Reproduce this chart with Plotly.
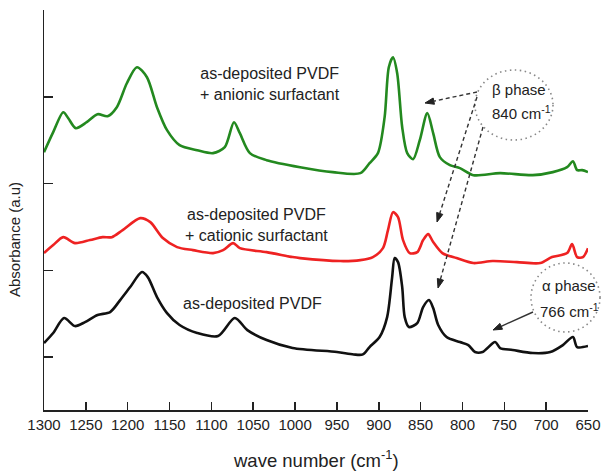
import plotly.graph_objects as go

# ---- data ----
gn_wn = [1300, 1289, 1277, 1271, 1262, 1249, 1236, 1224, 1213, 1201, 1189, 1177, 1165, 1153, 1138,
         1117, 1098, 1084, 1073, 1066, 1054, 1034, 994, 955, 922, 911, 901, 893, 888, 883,
         878, 872, 866, 859, 851, 842, 835, 827, 815, 803, 787, 755, 716, 692, 675,
         668, 663, 657, 650]
gn_ab = [3.363, 3.594, 3.824, 3.755, 3.640, 3.709, 3.801, 3.778, 3.882, 4.158, 4.343, 4.228, 3.882, 3.617, 3.444,
         3.386, 3.352, 3.421, 3.709, 3.582, 3.352, 3.271, 3.190, 3.133, 3.121, 3.236, 3.352, 3.767, 4.343, 4.458,
         4.274, 3.651, 3.352, 3.282, 3.501, 3.813, 3.582, 3.306, 3.213, 3.179, 3.098, 3.121, 3.098, 3.133, 3.190,
         3.259, 3.156, 3.156, 3.133]

rd_wn = [1300, 1289, 1277, 1263, 1245, 1230, 1219, 1206, 1185, 1173, 1158, 1141, 1122, 1098, 1086,
         1074, 1066, 1034, 1003, 994, 946, 922, 907, 895, 889, 883, 877, 871, 863, 854,
         847, 841, 835, 824, 807, 787, 764, 735, 707, 693, 675, 669, 663, 656, 650]
rd_ab = [2.199, 2.291, 2.383, 2.314, 2.349, 2.383, 2.383, 2.464, 2.602, 2.556, 2.372, 2.268, 2.233, 2.199, 2.233,
         2.314, 2.256, 2.210, 2.153, 2.141, 2.107, 2.118, 2.153, 2.256, 2.464, 2.671, 2.614, 2.349, 2.199, 2.210,
         2.349, 2.418, 2.326, 2.199, 2.141, 2.084, 2.107, 2.095, 2.084, 2.153, 2.199, 2.303, 2.153, 2.153, 2.256]

bk_wn = [1300, 1289, 1276, 1263, 1251, 1236, 1221, 1209, 1197, 1183, 1176, 1165, 1153, 1138, 1117,
         1092, 1072, 1057, 1034, 1003, 950, 930, 919, 911, 899, 890, 884, 881, 877, 872, 869,
         864, 854, 847, 840, 835, 829, 819, 803, 793, 785, 776, 761, 755, 740, 716,
         695, 680, 668, 663, 650]
bk_ab = [1.161, 1.277, 1.450, 1.357, 1.403, 1.484, 1.519, 1.657, 1.807, 1.980, 1.922, 1.692, 1.507, 1.369, 1.277,
         1.242, 1.450, 1.311, 1.196, 1.104, 1.058, 1.030, 1.030, 1.115, 1.231, 1.461, 1.922, 2.141, 2.095, 1.807, 1.461,
         1.346, 1.392, 1.576, 1.657, 1.565, 1.369, 1.231, 1.173, 1.138, 1.058, 1.058, 1.173, 1.104, 1.081, 1.046,
         1.058, 1.138, 1.231, 1.115, 1.127]

x_ticks = [1300, 1250, 1200, 1150, 1100, 1050, 1000, 950, 900, 850, 800, 750, 700, 650]
y_ticks = [1, 2, 3, 4, 5]

FONT = "Liberation Sans, Arial, sans-serif"

fig = go.Figure()
for wn, ab, col in [(gn_wn, gn_ab, "#23891f"), (rd_wn, rd_ab, "#ee2222"), (bk_wn, bk_ab, "#111111")]:
    fig.add_trace(go.Scatter(x=wn, y=ab, mode="lines",
                             line=dict(color=col, width=2.6, shape="spline", smoothing=0.8),
                             showlegend=False, hoverinfo="skip"))

W, H = 603, 472
L, R, T, B = 44, 15, 10, 62
PW, PH = W - L - R, H - T - B


def px(x):
    return (x - L) / PW


def py(y):
    return (H - B - y) / PH


annos = []
shapes = []


def text(x, y, s, size=16):
    annos.append(dict(x=px(x), y=py(y), xref="paper", yref="paper", text=s, showarrow=False,
                      xanchor="center", yanchor="middle", align="center",
                      font=dict(family=FONT, size=size, color="#222")))


text(270, 84, "as-deposited PVDF<br>+ anionic surfactant")
text(256, 225, "as-deposited PVDF<br>+ cationic surfactant")
text(252, 303, "as-deposited PVDF")
text(519, 90, "β phase", 15)
text(521, 112, "840 cm<sup>-1</sup>", 15)
text(569, 285, "α phase", 15)
text(569, 310, "766 cm<sup>-1</sup>", 15)

# dotted ellipses
shapes.append(dict(type="circle", xref="paper", yref="paper", x0=px(475), x1=px(553), y0=py(140), y1=py(70),
                   line=dict(color="#888", width=1.6, dash="1.5px,3.5px")))
shapes.append(dict(type="circle", xref="paper", yref="paper", x0=px(531), x1=px(600), y0=py(332), y1=py(263),
                   line=dict(color="#888", width=1.6, dash="1.5px,3.5px")))


def arrow(start, tip, dash):
    sx, sy = start
    tx, ty = tip
    dx, dy = tx - sx, ty - sy
    n = (dx * dx + dy * dy) ** 0.5
    ux, uy = dx / n, dy / n
    hl, hw = 9.0, 3.2
    bx, by = tx - ux * hl, ty - uy * hl
    pxp, pyp = -uy, ux
    shapes.append(dict(type="line", xref="paper", yref="paper", x0=px(sx), y0=py(sy), x1=px(bx), y1=py(by),
                       line=dict(color="#333", width=1.4, dash=dash)))
    pts = [(tx, ty), (bx + pxp * hw, by + pyp * hw), (bx - pxp * hw, by - pyp * hw)]
    path = "M " + " L ".join(f"{px(a):.5f},{py(b):.5f}" for a, b in pts) + " Z"
    shapes.append(dict(type="path", xref="paper", yref="paper", path=path,
                       fillcolor="#222", line=dict(color="#222", width=1)))


arrow((477, 92), (425, 103), "4px,3px")
arrow((477, 97), (437, 222), "4px,3px")
arrow((483, 127), (438, 288), "4px,3px")
arrow((533, 312), (493, 330), "solid")

# axis titles
annos.append(dict(x=px(15), y=py(240), xref="paper", yref="paper", text="Absorbance (a.u)",
                  textangle=-90, showarrow=False, xanchor="center", yanchor="middle",
                  font=dict(family=FONT, size=15, color="#222")))
annos.append(dict(x=px(316), y=py(459), xref="paper", yref="paper", text="wave number (cm<sup>-1</sup>)",
                  showarrow=False, xanchor="center", yanchor="middle",
                  font=dict(family=FONT, size=18.5, color="#222")))

fig.update_layout(
    width=W, height=H, margin=dict(l=L, r=R, t=T, b=B, autoexpand=False),
    paper_bgcolor="white", plot_bgcolor="white",
    annotations=annos, shapes=shapes,
    xaxis=dict(range=[1300, 650], tickvals=x_ticks, ticktext=[str(v) for v in x_ticks],
               ticks="inside", ticklen=8, tickwidth=1.5, tickcolor="#222",
               showline=True, linecolor="#222", linewidth=1.5, mirror=False,
               showgrid=False, zeroline=False, automargin=False,
               tickfont=dict(family=FONT, size=15, color="#222")),
    yaxis=dict(range=[0.389, 5.003], tickvals=y_ticks, showticklabels=False,
               ticks="inside", ticklen=9, tickwidth=1.5, tickcolor="#222",
               showline=True, linecolor="#222", linewidth=1.5, mirror=False,
               showgrid=False, zeroline=False, automargin=False),
)

fig.write_html("out.html", config={"displayModeBar": False, "staticPlot": True},
               post_script="document.body.style.margin='0';")
